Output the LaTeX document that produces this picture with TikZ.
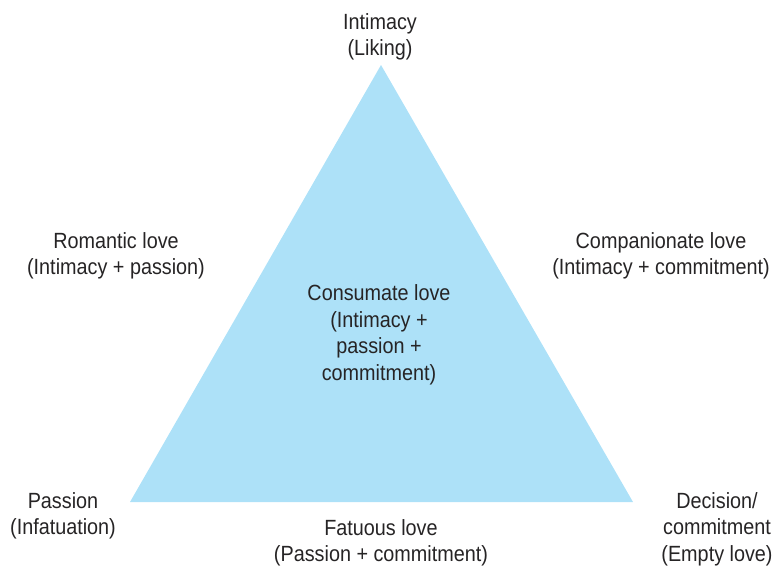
\documentclass[tikz,border=0pt]{standalone}
\usepackage{fontspec}
\setmainfont[FakeStretch=0.9]{Liberation Sans}
\usepackage{tikz}
\usetikzlibrary{positioning}

\definecolor{triblue}{RGB}{173,225,248}
\definecolor{inkgray}{RGB}{38,36,37}

\begin{document}
\begin{tikzpicture}[
  x=1pt, y=-1pt,
  lbl/.style={align=center,text=inkgray,inner sep=0pt,
    font=\fontsize{22}{26.5}\selectfont},
  tri/.style={fill=triblue,draw=none}
]
\useasboundingbox (0,0) rectangle (773,566);
% the triangle
\coordinate (top) at (381,65);
\coordinate (left) at (130,502);
\coordinate (right) at (633,502);
\fill[tri] (top) -- (left) -- (right) -- cycle;
% corners
\node[lbl] (intimacy) at (380,37) {Intimacy\\(Liking)};
\node[lbl] (passion) at (63,516) {Passion\\(Infatuation)};
\node[lbl] (decision) at (717,529) {Decision/\\commitment\\(Empty love)};
% sides
\node[lbl] (romantic) at (116,256) {Romantic love\\(Intimacy + passion)};
\node[lbl] (companion) at (661,256) {Companionate love\\(Intimacy + commitment)};
\node[lbl] (fatuous) at (381,543) {Fatuous love\\(Passion + commitment)};
% middle
\node[lbl] (consumate) at (379,335) {Consumate love\\(Intimacy +\\passion +\\commitment)};
\end{tikzpicture}
\end{document}
